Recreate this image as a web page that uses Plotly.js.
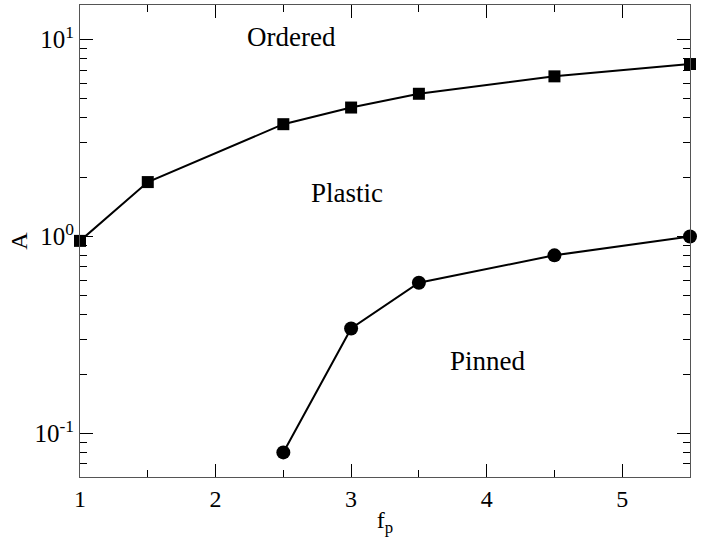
<!DOCTYPE html>
<html>
<head>
<meta charset="utf-8">
<script src="https://cdn.plot.ly/plotly-3.0.1.min.js"></script>
<style>html,body{margin:0;padding:0;background:#fff;}#chart{width:711px;height:539px;}</style>
</head>
<body>
<div id="chart"></div>
<script>
// Data
const fpSquares = [1, 1.5, 2.5, 3, 3.5, 4.5, 5.5];
const aOrdered  = [0.95, 1.89, 3.72, 4.52, 5.31, 6.51, 7.52];
const fpCircles = [2.5, 3, 3.5, 4.5, 5.5];
const aPinned   = [0.080, 0.341, 0.582, 0.802, 1.0];
const yTickVals = [0.1, 1, 10];
const yTickText = ['10<sup>-1</sup>', '10<sup>0</sup>', '10<sup>1</sup>'];
const xTickVals = [1, 2, 3, 4, 5];
const xTickText = ['1', '2', '3', '4', '5'];
const regionLabels = ['Ordered', 'Plastic', 'Pinned'];

const FONT = '"Liberation Serif", "Times New Roman", Times, serif';

const traces = [
  {x: fpSquares, y: aOrdered, mode: 'lines+markers', type: 'scatter',
   line: {color: '#000', width: 2},
   marker: {symbol: 'square', size: 12, color: '#000'}, cliponaxis: false},
  {x: fpCircles, y: aPinned, mode: 'lines+markers', type: 'scatter',
   line: {color: '#000', width: 2},
   marker: {symbol: 'circle', size: 14, color: '#000'}, cliponaxis: false}
];

const labelPos = [[0.347, 0.933], [0.437, 0.602], [0.669, 0.246]];

const layout = {
  width: 711, height: 539,
  margin: {l: 80, r: 21, t: 5, b: 62},
  paper_bgcolor: '#fff', plot_bgcolor: '#fff',
  showlegend: false,
  font: {family: FONT, color: '#000', size: 22},
  xaxis: {
    range: [1, 5.5], tickmode: 'array', tickvals: xTickVals, ticktext: xTickText,
    ticks: 'inside', ticklen: 13, tickwidth: 1, tickcolor: '#000',
    showline: true, linecolor: '#555', linewidth: 1, mirror: 'ticks',
    showgrid: false, zeroline: false,
    minor: {dtick: 0.5, tick0: 1, ticks: 'inside', ticklen: 7, tickwidth: 1, tickcolor: '#000', showgrid: false},
    tickfont: {family: FONT, size: 24, color: '#000'},
    title: {text: 'f<sub>p</sub>', font: {family: FONT, size: 24, color: '#000'}, standoff: 0}
  },
  yaxis: {
    type: 'log', range: [Math.log10(0.06), Math.log10(15)],
    tickmode: 'array', tickvals: yTickVals, ticktext: yTickText,
    ticks: 'inside', ticklen: 13, tickwidth: 1, tickcolor: '#000',
    showline: true, linecolor: '#555', linewidth: 1, mirror: 'ticks',
    showgrid: false, zeroline: false,
    minor: {dtick: 'D1', ticks: 'inside', ticklen: 7, tickwidth: 1, tickcolor: '#000', showgrid: false},
    tickfont: {family: FONT, size: 25, color: '#000'},
    title: {text: 'A', font: {family: FONT, size: 24, color: '#000'}, standoff: 0}
  },
  annotations: regionLabels.map((t, i) => ({
    text: t, xref: 'paper', yref: 'paper', x: labelPos[i][0], y: labelPos[i][1],
    xanchor: 'center', yanchor: 'middle', showarrow: false,
    font: {family: FONT, size: 27, color: '#000'}
  }))
};

Plotly.newPlot('chart', traces, layout, {displayModeBar: false, staticPlot: true});
</script>
</body>
</html>
